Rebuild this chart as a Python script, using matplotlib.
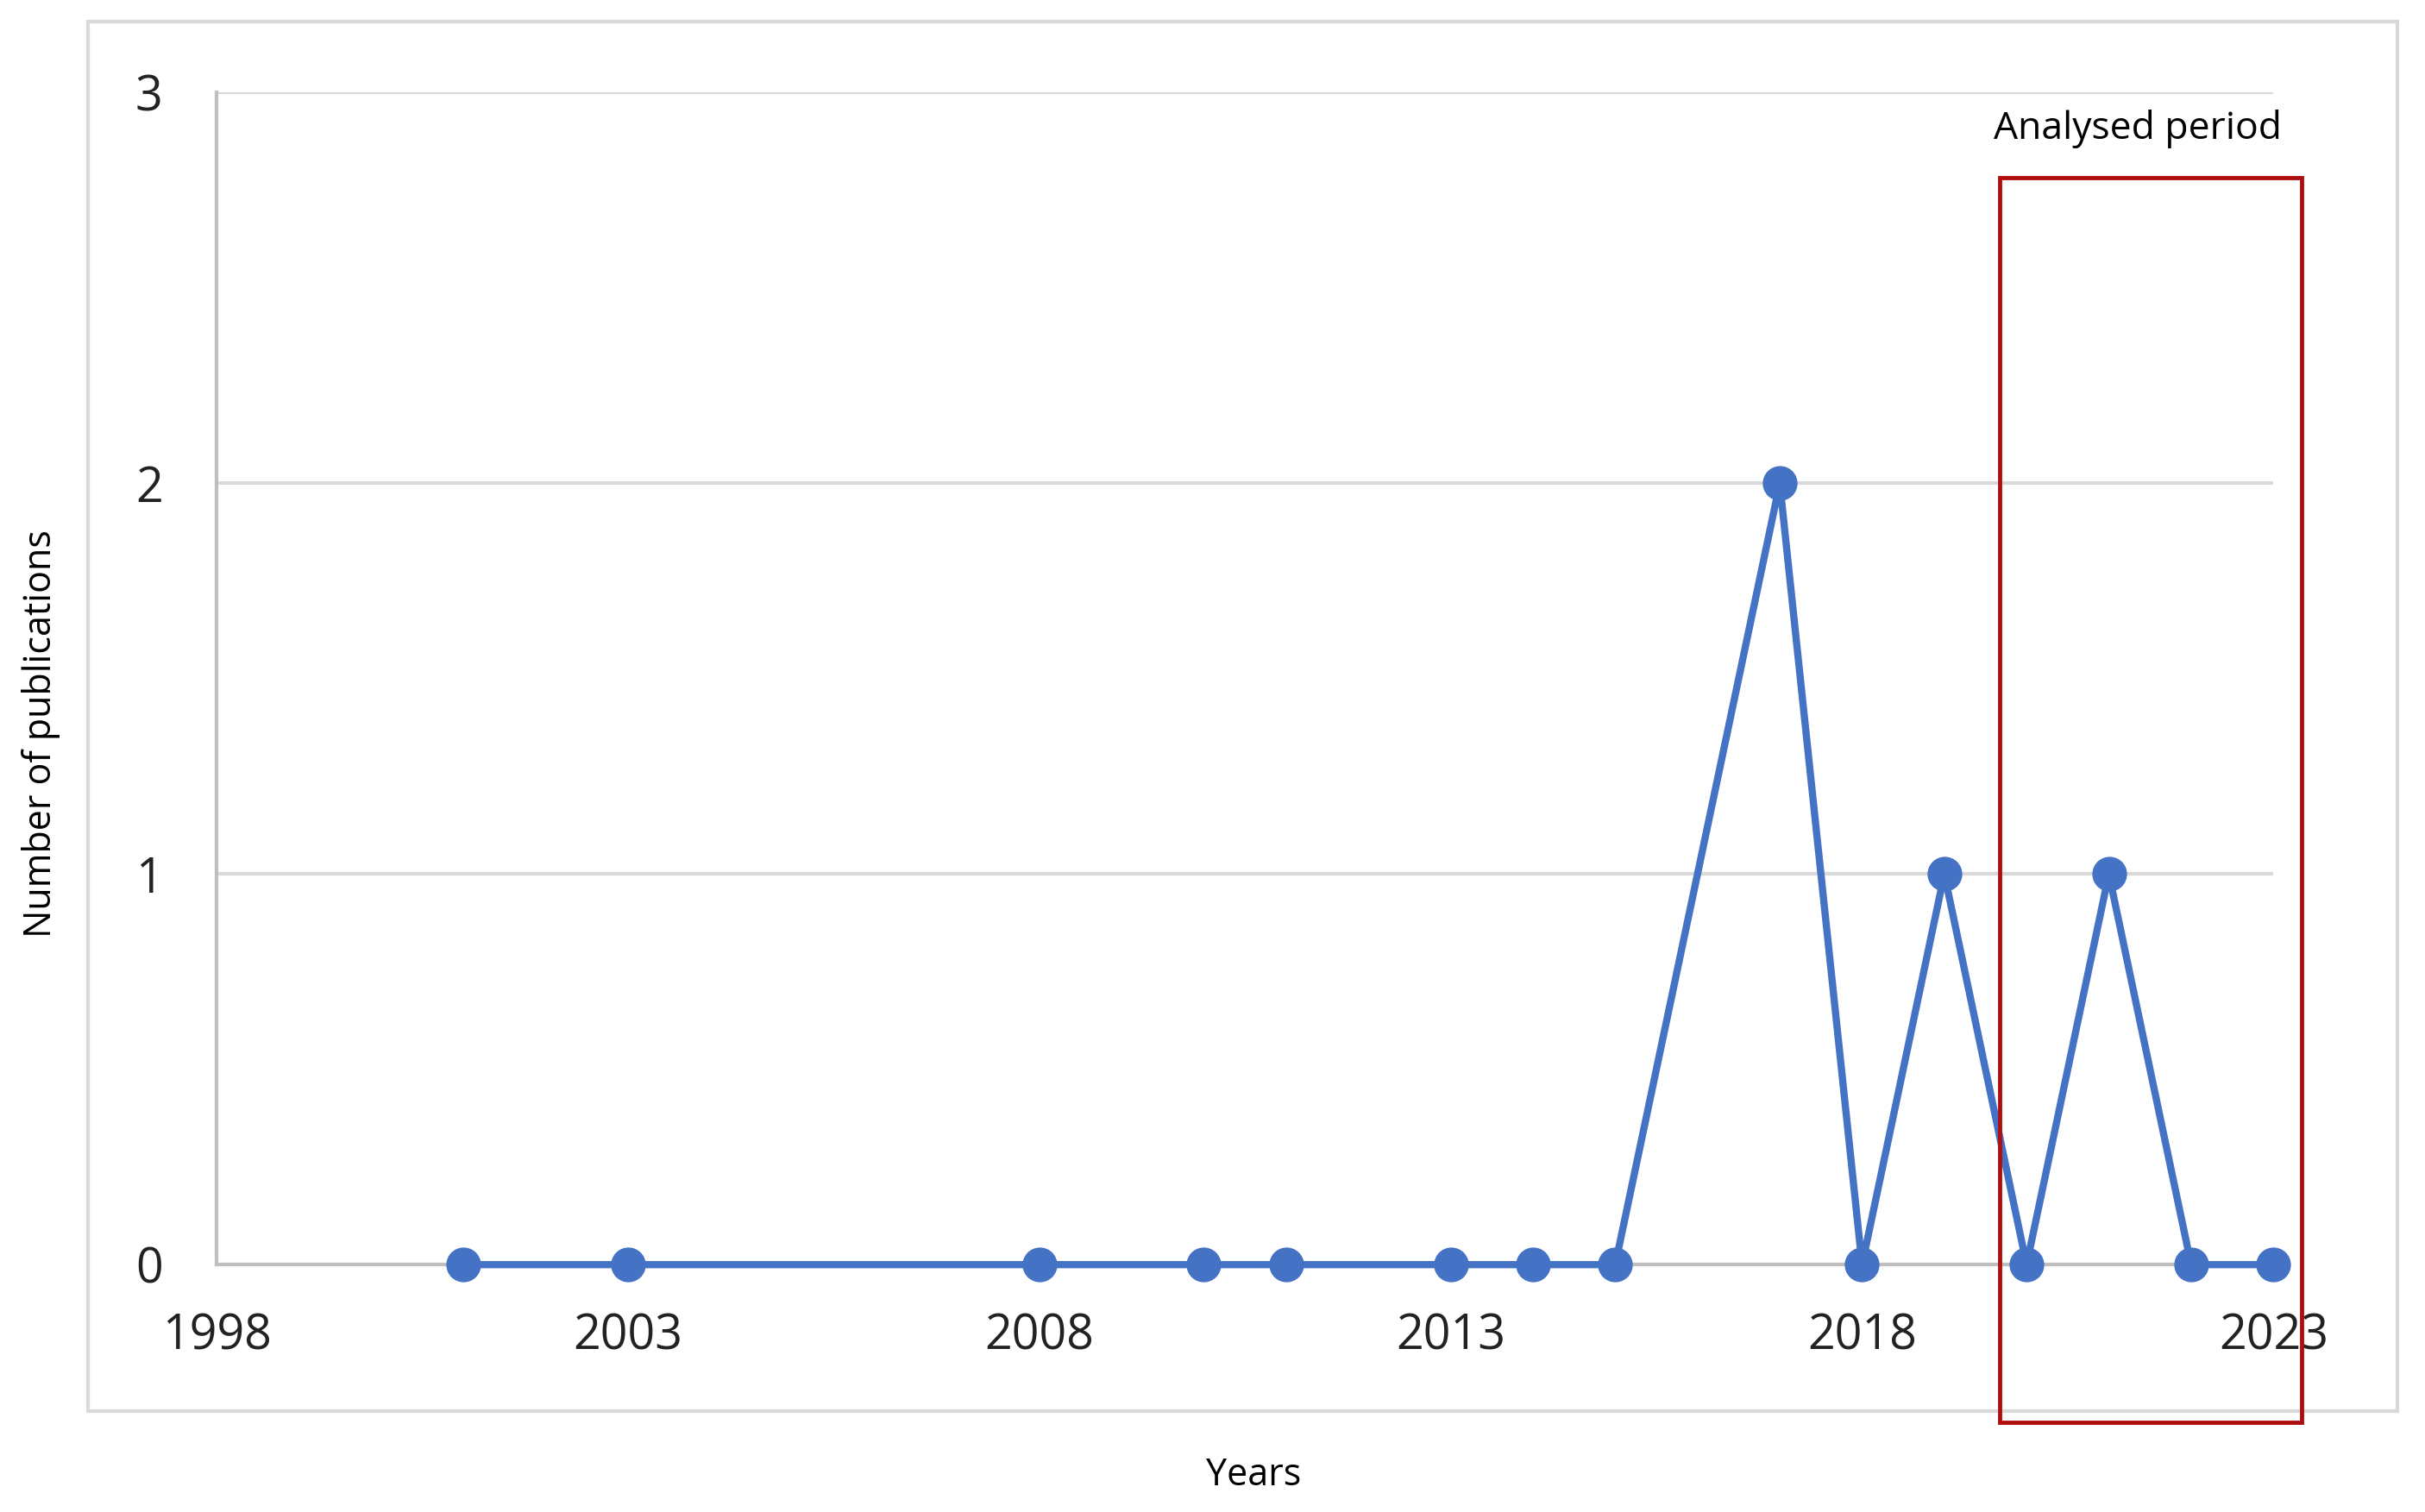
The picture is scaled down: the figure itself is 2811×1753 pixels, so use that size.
import matplotlib.pyplot as plt
from matplotlib.patches import Rectangle

years = [2001, 2003, 2008, 2010, 2011, 2013, 2014, 2015, 2017, 2018, 2019, 2020, 2021, 2022, 2023]
pubs = [0, 0, 0, 0, 0, 0, 0, 0, 2, 0, 1, 0, 1, 0, 0]
x_ticks = [1998, 2003, 2008, 2013, 2018, 2023]
y_ticks = [0, 1, 2, 3]

plt.rcParams['font.family'] = ['Open Sans', 'DejaVu Sans']

fig = plt.figure(figsize=(28.11, 17.53), dpi=100)
ax = fig.add_axes([0.0893, 0.1636, 0.8482, 0.7751])

ax.plot(years, pubs, color="#4472C4", lw=6, marker="o", markersize=28, zorder=3, clip_on=False)
ax.set_xlim(1998, 2023)
ax.set_ylim(0, 3)
ax.set_xticks(x_ticks)
ax.set_yticks(y_ticks)
ax.tick_params(length=0, labelsize=40, colors="#222222")
ax.tick_params(axis="x", pad=40)
ax.tick_params(axis="y", pad=45)
ax.grid(axis="y", color="#d9d9d9", lw=3)
for s in ["top", "right"]:
    ax.spines[s].set_visible(False)
for s in ["left", "bottom"]:
    ax.spines[s].set_color("#bfbfbf")
    ax.spines[s].set_linewidth(3)

# outer chart frame
fig.patches.append(Rectangle((0.0364, 0.0665), 0.9521, 0.9192, transform=fig.transFigure,
                             fill=False, edgecolor="#d9d9d9", lw=3))
# analysed period box
fig.patches.append(Rectangle((0.8246, 0.0593), 0.1244, 0.8231, transform=fig.transFigure,
                             fill=False, edgecolor="#B00F0F", lw=3.5, zorder=5))
fig.text(0.8814, 0.915, "Analysed period", ha="center", va="center", fontsize=32)
fig.text(0.517, 0.024, "Years", ha="center", va="center", fontsize=31)
fig.text(0.017, 0.515, "Number of publications", ha="center", va="center", fontsize=31, rotation=90)

fig.savefig("out.png", dpi=100)
